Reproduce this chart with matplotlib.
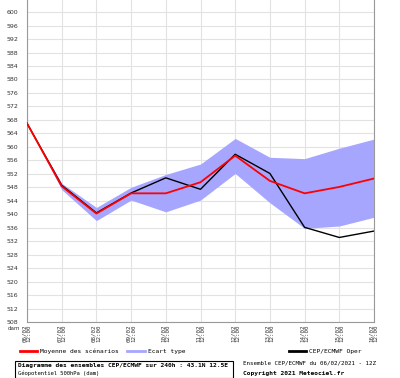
import numpy as np
import matplotlib
matplotlib.use("Agg")
from matplotlib import pyplot as plt

days = ["06/02", "07/02", "08/02", "09/02", "10/02", "11/02",
        "12/02", "13/02", "14/02", "15/02", "16/02"]
moyenne = [567.0, 548.3, 540.2, 546.2, 546.2, 549.5, 557.4, 549.9, 546.2, 548.1, 550.6]
oper = [567.0, 548.6, 540.4, 546.3, 550.8, 547.4, 557.8, 552.1, 536.1, 533.1, 535.0]
ecart_haut = [567.0, 549.2, 542.0, 548.0, 551.8, 554.9, 562.5, 556.9, 556.5, 559.6, 562.3]
ecart_bas = [567.0, 547.3, 538.1, 544.2, 540.7, 544.2, 552.1, 543.4, 535.8, 536.5, 539.1]
yticks = list(range(508, 601, 4))

mono = "DejaVu Sans Mono"
fig = plt.figure(figsize=(4.0, 3.78), dpi=100)
ax = fig.add_axes([27 / 400, 1 - 322 / 378, 347 / 400, 322 / 378])

x = np.arange(len(days))
ax.fill_between(x, ecart_bas, ecart_haut, color="#a6a6ff", lw=0, zorder=2)
ax.plot(x, oper, color="black", lw=1.0, zorder=3)
ax.plot(x, moyenne, color="#ff0000", lw=1.3, zorder=4)

ax.set_xlim(0, len(days) - 1)
ax.set_ylim(508, 603.6)
ax.set_yticks(yticks)
ax.set_yticklabels([str(v) for v in yticks], fontsize=4.5, color="#333333")
ax.set_xticks(x)
ax.set_xticklabels([d + "\n12:00" for d in days], rotation=90, fontsize=4.2,
                   family=mono, color="#333333", linespacing=0.9)
ax.tick_params(axis="y", length=0, pad=6)
ax.tick_params(axis="x", length=0, pad=2)
ax.grid(True, color="#e2e2e2", lw=0.8, zorder=0)
ax.spines["top"].set_visible(False)
for s in ["left", "right", "bottom"]:
    ax.spines[s].set_color("#999999")
    ax.spines[s].set_linewidth(0.8)

fig.text(20 / 400, 1 - 328 / 378, "dam", fontsize=4.0, color="#333333",
         va="center", ha="right")

# legende
ly = 1 - 351 / 378
for (x0, x1, c, lw, label) in [(20, 37, "#ff0000", 2.0, "Moyenne des scénarios"),
                               (127, 145, "#a6a6ff", 2.0, "Ecart type"),
                               (289, 306, "black", 2.0, "CEP/ECMWF Oper")]:
    fig.add_artist(plt.Line2D([x0 / 400, x1 / 400], [ly, ly], color=c, lw=lw))
    fig.text((x1 + 3) / 400, ly, label, fontsize=4.5, family=mono, va="center")

box = plt.Rectangle((15 / 400, 0.5 / 378), 218 / 400, 17 / 378, transform=fig.transFigure,
                    fill=False, ec="black", lw=0.8)
fig.add_artist(box)
fig.text(18 / 400, 1 - 366 / 378, "Diagramme des ensembles CEP/ECMWF sur 240h : 43.1N 12.5E",
         fontsize=4.5, family=mono, weight="bold", va="center")
fig.text(18 / 400, 1 - 373.5 / 378, "Géopotentiel 500hPa (dam)", fontsize=4.0,
         family=mono, va="center")
fig.text(243 / 400, 1 - 363 / 378, "Ensemble CEP/ECMWF du 06/02/2021 - 12Z",
         fontsize=4.2, family=mono, va="center")
fig.text(243 / 400, 1 - 373 / 378, "Copyright 2021 Meteociel.fr",
         fontsize=4.5, family=mono, weight="bold", va="center")

fig.savefig("out.png", dpi=100)
